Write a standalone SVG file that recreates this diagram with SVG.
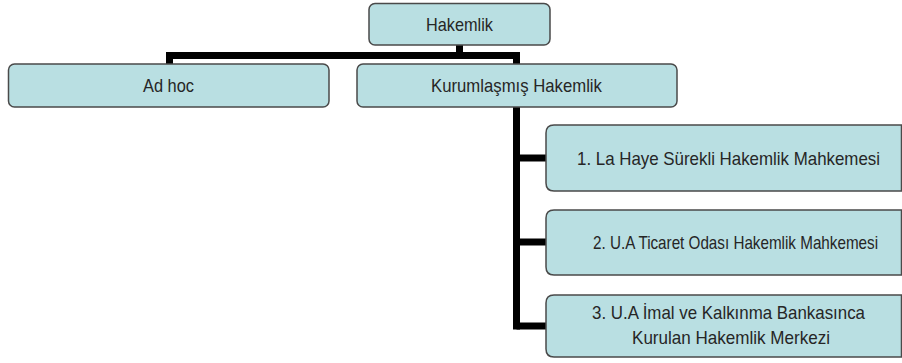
<svg xmlns="http://www.w3.org/2000/svg" width="902" height="363" viewBox="0 0 902 363">
<style>
.box{fill:#b9dfe2;stroke:#4a4a4a;stroke-width:1.5}
.t{font-family:"Liberation Sans",Arial,sans-serif;font-size:18px;fill:#262626;text-anchor:middle}
.c{fill:none;stroke:#000;stroke-width:7;stroke-linecap:butt;stroke-linejoin:miter}
</style>
<rect width="902" height="363" fill="#fff"/>
<g id="connectors">
<path class="c" d="M459.5,45 V55.5"/>
<path class="c" d="M169.5,64 V55.5 H516.5 V64"/>
<path class="c" d="M516.5,107 V329.5"/>
<path class="c" d="M516.5,158 H546"/>
<path class="c" d="M516.5,242 H546"/>
<path class="c" d="M516.5,326 H546"/>
</g>
<g id="hakemlik">
<rect class="box" x="369" y="3.5" width="181" height="41.5" rx="6"/>
<text class="t" transform="translate(459.5,31) scale(0.85,1)" textLength="78.8" lengthAdjust="spacingAndGlyphs">Hakemlik</text>
</g>
<g id="adhoc">
<rect class="box" x="8.5" y="64" width="320.5" height="43" rx="6"/>
<text class="t" transform="translate(168.5,92) scale(0.85,1)" textLength="60" lengthAdjust="spacingAndGlyphs">Ad hoc</text>
</g>
<g id="kurumlasmis">
<rect class="box" x="357" y="64" width="320" height="43" rx="6"/>
<text class="t" transform="translate(516.5,92) scale(0.85,1)" textLength="201" lengthAdjust="spacingAndGlyphs">Kurumlaşmış Hakemlik</text>
</g>
<g id="n1">
<path class="box" d="M901.5,125 H554 Q546,125 546,133 V183 Q546,191 554,191 H901.5 Z"/>
<text class="t" transform="translate(728.5,165) scale(0.85,1)" textLength="356.5" lengthAdjust="spacingAndGlyphs">1. La Haye  Sürekli Hakemlik Mahkemesi</text>
</g>
<g id="n2">
<path class="box" d="M901.5,210 H554 Q546,210 546,218 V267 Q546,275 554,275 H901.5 Z"/>
<text class="t" transform="translate(735.5,249) scale(0.85,1)" textLength="335.3" lengthAdjust="spacingAndGlyphs">2. U.A Ticaret Odası Hakemlik Mahkemesi</text>
</g>
<g id="n3">
<path class="box" d="M901.5,295 H554 Q546,295 546,303 V349 Q546,357 554,357 H901.5 Z"/>
<text class="t" transform="translate(728.5,319) scale(0.85,1)" textLength="321.2" lengthAdjust="spacingAndGlyphs">3. U.A İmal ve Kalkınma Bankasınca</text>
<text class="t" transform="translate(731,344) scale(0.85,1)" textLength="232.9" lengthAdjust="spacingAndGlyphs">Kurulan Hakemlik Merkezi</text>
</g>
</svg>
